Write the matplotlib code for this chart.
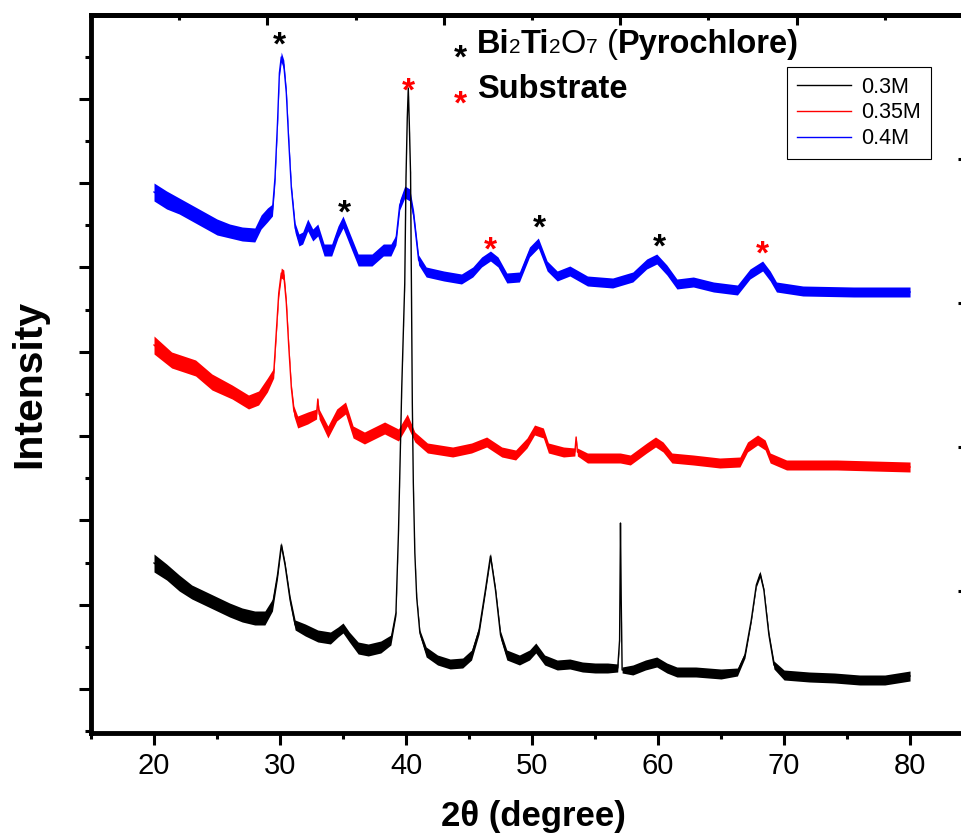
import numpy as np
import matplotlib.pyplot as plt
from matplotlib.ticker import MultipleLocator, FixedLocator, NullFormatter

plt.rcParams['font.family'] = ['Liberation Sans', 'DejaVu Sans']

# 2theta (deg), stacked intensity (a.u.) and half-height of the noise band
tt_03 = [20.0, 21.0, 22.0, 23.0, 24.0, 25.0, 26.0, 27.0, 28.0, 28.8,
         29.4, 29.8, 30.1, 30.4, 30.8, 31.2, 32.0, 33.0, 34.0, 34.6,
         35.0, 35.5, 36.2, 37.0, 38.0, 38.8, 39.2, 39.4, 39.5, 39.66,
         39.9, 40.0, 40.1, 40.18, 40.26, 40.36, 40.44, 40.5, 40.58, 40.7,
         40.85, 41.1, 41.6, 42.5, 43.5, 44.5, 45.2, 45.8, 46.3, 46.7,
         47.1, 47.5, 48.0, 49.0, 49.8, 50.3, 51.0, 52.0, 53.0, 54.0,
         55.0, 56.0, 56.8, 56.95, 57.02, 57.08, 57.15, 58.0, 59.0, 59.9,
         60.7, 61.5, 63.0, 65.0, 66.3, 66.9, 67.4, 67.8, 68.1, 68.4,
         68.8, 69.2, 70.0, 72.0, 74.0, 76.0, 78.0, 79.0, 80.0]
int_03 = [170, 161, 150, 141, 135, 129, 123, 118, 115, 115,
          128, 158, 188, 168, 133, 108, 103, 97, 95, 101,
          105, 96, 85, 83, 86, 93, 120, 200, 255, 345,
          450, 556, 615, 645, 610, 560, 430, 330, 250, 180,
          135, 100, 81, 73, 69, 70, 78, 103, 143, 177,
          143, 98, 78, 73, 78, 85, 73, 68, 69, 66,
          65, 65, 65, 93, 210, 133, 63, 63, 68, 71,
          65, 61, 61, 59, 61, 78, 113, 148, 159, 143,
          98, 68, 58, 56, 55, 53, 53, 55, 57]
noise_03 = [9, 8, 8, 7, 7, 7, 7, 7, 7, 7,
            6, 4, 3, 3, 4, 5, 6, 6, 6, 5,
            5, 5, 6, 6, 6, 5, 3, 1, 1, 1,
            1, 1, 1, 1, 1, 1, 1, 1, 1, 1,
            2, 3, 5, 5, 5, 5, 5, 4, 3, 3,
            3, 4, 5, 5, 5, 5, 5, 5, 5, 5,
            5, 5, 4, 1, 1, 1, 3, 5, 5, 5,
            5, 5, 5, 5, 4, 3, 2, 2, 3, 2,
            3, 4, 5, 5, 5, 5, 5, 5, 5]

tt_035 = [20.0, 21.4, 23.3, 24.6, 26.2, 27.5, 28.3, 29.0, 29.5, 29.7,
          29.9, 30.1, 30.3, 30.5, 30.7, 30.9, 31.1, 31.4, 32.2, 32.9,
          33.0, 33.1, 33.8, 34.5, 35.2, 35.8, 36.7, 38.3, 39.4, 40.1,
          40.7, 41.7, 43.7, 45.2, 46.4, 47.6, 48.7, 49.6, 50.2, 50.9,
          51.3, 52.5, 53.4, 53.5, 53.6, 54.4, 57.0, 57.8, 59.1, 59.8,
          60.4, 61.1, 62.8, 64.9, 66.5, 67.1, 67.9, 68.5, 68.9, 70.2,
          74.2, 80.0]
int_035 = [388, 373, 365, 351, 341, 331, 335, 348, 360, 400,
           440, 460, 458, 430, 385, 345, 322, 311, 315, 319,
           334, 319, 301, 318, 325, 301, 295, 305, 298, 313,
           296, 285, 281, 285, 291, 281, 278, 290, 303, 300,
           285, 281, 281, 296, 281, 275, 275, 273, 285, 291,
           286, 275, 273, 270, 271, 286, 293, 288, 275, 268,
           268, 266]
noise_035 = [9, 8, 8, 8, 7, 7, 7, 7, 5, 4,
             4, 5, 5, 4, 4, 4, 5, 6, 6, 5,
             1, 5, 6, 6, 6, 6, 6, 6, 6, 6,
             5, 5, 5, 5, 5, 5, 5, 5, 5, 5,
             5, 5, 4, 1, 4, 5, 5, 5, 5, 5,
             5, 5, 5, 5, 5, 5, 5, 5, 5, 5,
             5, 5]

tt_04 = [20.0, 21.0, 22.0, 23.0, 24.0, 25.0, 26.0, 27.0, 28.0, 28.5,
         29.0, 29.4, 29.6, 29.8, 29.95, 30.1, 30.3, 30.5, 30.7, 30.9,
         31.2, 31.5, 31.8, 32.2, 32.6, 33.0, 33.5, 34.1, 34.6, 35.0,
         35.5, 36.2, 37.3, 38.2, 38.8, 39.2, 39.5, 39.9, 40.3, 40.6,
         41.0, 41.6, 43.0, 44.4, 45.3, 46.0, 46.7, 47.3, 48.0, 49.0,
         49.8, 50.5, 51.2, 52.0, 53.0, 54.4, 56.4, 58.0, 59.1, 59.9,
         60.7, 61.5, 62.8, 64.4, 66.3, 67.3, 68.3, 68.9, 69.4, 71.5,
         75.5, 80.0]
int_04 = [541, 533, 527, 520, 513, 506, 502, 499, 498, 511,
          518, 523, 555, 610, 660, 676, 668, 640, 590, 545,
          505, 493, 495, 508, 498, 503, 483, 483, 501, 511,
          495, 473, 473, 483, 483, 493, 528, 541, 538, 518,
          473, 461, 457, 454, 461, 471, 477, 471, 455, 456,
          481, 490, 467, 457, 462, 452, 450, 456, 469, 474,
          463, 449, 451, 446, 443, 459, 467, 457, 446, 442,
          441, 441]
noise_04 = [9, 9, 8, 8, 8, 8, 7, 7, 7, 7,
            7, 6, 5, 4, 4, 5, 5, 4, 4, 4,
            5, 6, 6, 6, 6, 6, 6, 6, 6, 6,
            6, 6, 6, 6, 6, 5, 5, 6, 6, 5,
            5, 5, 5, 5, 5, 5, 5, 5, 5, 5,
            5, 5, 5, 5, 5, 5, 5, 5, 5, 5,
            5, 5, 5, 5, 5, 5, 5, 5, 5, 5,
            5, 5]

labels = ['0.3M', '0.35M', '0.4M']
colors = ['black', 'red', 'blue']

# peak markers: (2theta, height) for pyrochlore and substrate reflections
pyro_peaks = [(29.92, 697), (35.08, 529), (50.56, 514), (60.08, 495)]
subs_peaks = [(40.16, 651), (46.67, 492), (68.25, 488)]

fig = plt.figure(figsize=(9.62, 8.36), dpi=100)
ax = fig.add_axes([91 / 962, 103 / 836, 877 / 962, 718 / 836])

curves = [(tt_03, int_03, noise_03), (tt_035, int_035, noise_035), (tt_04, int_04, noise_04)]
handles = []
for (tt, yy, nn), lab, c in zip(curves, labels, colors):
    tt, yy, nn = np.array(tt), np.array(yy), np.array(nn)
    z = 3 if c == 'black' else 2
    ax.fill_between(tt, yy - nn, yy + nn, color=c, lw=0, zorder=z)
    h, = ax.plot(tt, yy, color=c, lw=1.0, label=lab, zorder=z)
    handles.append(h)

ax.set_xlim(15, 84.6)
ax.set_ylim(0, 718)

ax.xaxis.set_major_locator(MultipleLocator(10))
ax.xaxis.set_minor_locator(MultipleLocator(5))
ax.yaxis.set_major_locator(FixedLocator(np.arange(44, 700, 84.3)))
ax.yaxis.set_minor_locator(FixedLocator(np.arange(1.8, 718, 84.3)))
ax.yaxis.set_major_formatter(NullFormatter())
ax.tick_params(which='major', direction='out', length=8.5, width=2.2, labelsize=21, pad=5)
ax.tick_params(which='minor', direction='out', length=4, width=2.2)
for s in ax.spines.values():
    s.set_linewidth(3.5)

top = ax.secondary_xaxis('top')
top.set_xticks([29, 43, 57, 71])
top.set_xticks([15, 22, 36, 50, 64, 78], minor=True)
top.tick_params(which='major', direction='in', length=7, width=2.2, labeltop=False)
top.tick_params(which='minor', direction='in', length=3.5, width=2.2)
top.spines['top'].set_linewidth(3.5)

right = ax.secondary_yaxis('right')
right.set_yticks([-2, 142, 286, 430, 574, 718])
right.tick_params(direction='in', length=7, width=2.2, labelright=False)
right.spines['right'].set_linewidth(3.5)

ax.set_xlabel('2\u03b8 (degree)', fontsize=25, fontweight='bold')
ax.xaxis.set_label_coords(0.505, -0.093)
ax.set_ylabel('Intensity', fontsize=29.5, fontweight='bold')
ax.yaxis.set_label_coords(-0.049, 0.486)


def star(x, y, color, fs=24):
    ax.annotate('*', xy=(x, y), xytext=(0, -0.57 * fs), textcoords='offset points',
                ha='center', va='baseline', fontsize=fs, fontweight='bold', color=color)


for x, y in pyro_peaks:
    star(x, y, 'black')
for x, y in subs_peaks:
    star(x, y, 'red')

# phase key in the upper middle
star(44.29, 684, 'black')
star(44.29, 638, 'red')
pieces = [('Bi', 23.5, 'bold'), ('2', 15, 'normal'), ('Ti', 23.5, 'bold'),
          ('2', 15, 'normal'), ('O', 23.5, 'normal'), ('7', 15, 'normal'),
          (' (', 23.5, 'normal'), ('Pyrochlore)', 23.5, 'bold')]
prev = None
for s, fs, fw in pieces:
    if prev is None:
        prev = ax.text(45.63, 680, s, fontsize=fs, fontweight=fw, va='baseline', ha='left')
    else:
        prev = ax.annotate(s, xy=(1, 680), xycoords=(prev, 'data'), fontsize=fs,
                           fontweight=fw, va='baseline', ha='left')
ax.text(45.63, 635, 'Substrate', fontsize=23.5, fontweight='bold', va='baseline', ha='left')

leg = ax.legend(handles=handles, loc='upper left', bbox_to_anchor=(787 / 962, 1 - 67 / 836),
                bbox_transform=fig.transFigure, borderaxespad=0, fontsize=15.5,
                handlelength=2.5, handletextpad=0.5, labelspacing=0.22,
                borderpad=0.45, fancybox=False, framealpha=1, edgecolor='black')
leg.get_frame().set_linewidth(0.8)

fig.savefig('out.png', dpi=100)
